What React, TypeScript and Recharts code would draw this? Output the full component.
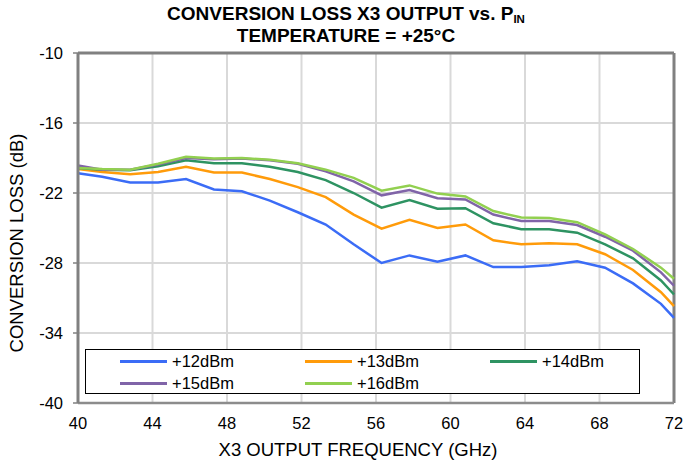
import React from "react";
import {
  LineChart,
  Line,
  XAxis,
  YAxis,
  CartesianGrid,
  ReferenceLine,
} from "recharts";

// X3 output frequency (GHz)
const freqs = [
  40, 41.3, 42.8, 44.3, 45.8, 47.3, 48.8, 50.3, 51.8, 53.3, 54.8, 56.3,
  57.8, 59.3, 60.8, 62.3, 63.8, 65.3, 66.8, 68.3, 69.8, 71.3, 72,
];

// conversion loss (dB) per input power
const pin12 = [
  -20.3, -20.6, -21.1, -21.1, -20.8, -21.7, -21.85, -22.65, -23.65, -24.7, -26.4, -28.0,
  -27.35, -27.9, -27.35, -28.35, -28.35, -28.2, -27.85, -28.4, -29.75, -31.5, -32.7,
];
const pin13 = [
  -19.95, -20.2, -20.4, -20.2, -19.75, -20.25, -20.25, -20.8, -21.5, -22.35, -23.85, -25.05,
  -24.3, -25.0, -24.7, -26.05, -26.4, -26.3, -26.4, -27.25, -28.6, -30.5, -31.7,
];
const pin14 = [
  -19.85, -20.0, -20.05, -19.7, -19.2, -19.45, -19.45, -19.75, -20.2, -20.9, -22.0, -23.25,
  -22.6, -23.35, -23.3, -24.6, -25.1, -25.1, -25.4, -26.4, -27.6, -29.5, -30.7,
];
const pin15 = [
  -19.65, -20.0, -20.0, -19.55, -19.0, -19.1, -19.05, -19.2, -19.5, -20.15, -21.0, -22.2,
  -21.75, -22.45, -22.55, -23.85, -24.4, -24.4, -24.75, -25.75, -26.95, -28.8, -29.95,
];
const pin16 = [
  -19.85, -19.95, -20.0, -19.5, -18.9, -19.05, -19.0, -19.15, -19.45, -20.0, -20.7, -21.8,
  -21.35, -22.05, -22.3, -23.55, -24.1, -24.15, -24.5, -25.55, -26.8, -28.4, -29.35,
];

const xTicks = [40, 44, 48, 52, 56, 60, 64, 68, 72];
const yTicks = [-40, -34, -28, -22, -16, -10];

const series = [
  { key: "p12", name: "+12dBm", values: pin12, color: "#3b6cf6" },
  { key: "p13", name: "+13dBm", values: pin13, color: "#ff9b0a" },
  { key: "p14", name: "+14dBm", values: pin14, color: "#2e9362" },
  { key: "p15", name: "+15dBm", values: pin15, color: "#8064a8" },
  { key: "p16", name: "+16dBm", values: pin16, color: "#92d050" },
];

const data = freqs.map((f, i) => {
  const row: Record<string, number> = { f };
  series.forEach((s) => {
    row[s.key] = s.values[i];
  });
  return row;
});

const FONT = "'Liberation Sans', Arial, sans-serif";

// legend drawn as an overlay box inside the plot, like the datasheet
const LegendBox = () => {
  const cols = [120, 305, 490];
  return (
    <div
      style={{
        position: "absolute",
        left: 85,
        top: 349,
        width: 555,
        height: 45,
        border: "1px solid #000",
        background: "#fff",
        boxSizing: "border-box",
      }}
    >
      {series.map((s, i) => {
        const col = i % 3;
        const row = Math.floor(i / 3);
        return (
          <div
            key={s.key}
            style={{
              position: "absolute",
              left: cols[col] - 86,
              top: 1 + row * 22,
              display: "flex",
              alignItems: "center",
              fontSize: 16.5,
              color: "#000",
              height: 20,
            }}
          >
            <span
              style={{
                display: "inline-block",
                width: 47,
                height: 3,
                background: s.color,
                marginRight: 5,
              }}
            />
            {s.name}
          </div>
        );
      })}
    </div>
  );
};

const YTitle = () => (
  <text
    x={23}
    y={243}
    transform="rotate(-90 23 243)"
    textAnchor="middle"
    fontSize={18.5}
    fill="#000"
    fontFamily={FONT}
  >
    CONVERSION LOSS (dB)
  </text>
);

const XTitle = () => (
  <text x={358} y={456} textAnchor="middle" fontSize={18.5} fill="#000" fontFamily={FONT}>
    X3 OUTPUT FREQUENCY (GHz)
  </text>
);

export default function App() {
  return (
    <div
      style={{
        position: "absolute",
        left: 0,
        top: 0,
        width: 684,
        height: 464,
        background: "#fff",
        fontFamily: FONT,
      }}
    >
      <div
        style={{
          position: "absolute",
          left: 0,
          width: 684,
          top: 3,
          textAlign: "center",
          fontWeight: "bold",
          fontSize: 19,
          lineHeight: "22px",
          color: "#000",
          paddingLeft: 8,
          boxSizing: "border-box",
        }}
      >
        <div>
          CONVERSION LOSS X3 OUTPUT vs. P
          <sub style={{ fontSize: 11.5, verticalAlign: "-3px", lineHeight: 0 }}>IN</sub>
        </div>
        <div>TEMPERATURE = +25°C</div>
      </div>
      <LineChart
        width={684}
        height={464}
        data={data}
        margin={{ top: 53, right: 10, left: 0, bottom: 0 }}
        style={{ fontFamily: FONT, position: "absolute", left: 0, top: 0 }}
      >
        <CartesianGrid stroke="#d9d9d9" strokeWidth={2} />
        <XAxis
          dataKey="f"
          type="number"
          domain={[40, 72]}
          ticks={xTicks}
          height={61}
          axisLine={{ stroke: "#8c8c8c", strokeWidth: 2.5 }}
          tickLine={false}
          tickSize={0}
          tickMargin={14}
          tick={{ fill: "#000", fontSize: 16.5 }}
          label={<XTitle />}
        />
        <YAxis
          type="number"
          domain={[-40, -10]}
          ticks={yTicks}
          width={78}
          axisLine={{ stroke: "#808080", strokeWidth: 3 }}
          tickLine={{ stroke: "#808080", strokeWidth: 1.5 }}
          tickSize={5}
          tickMargin={10}
          tick={{ fill: "#000", fontSize: 16.5 }}
          label={<YTitle />}
        />
        <ReferenceLine y={-10} stroke="#808080" strokeWidth={3} />
        <ReferenceLine x={72} stroke="#808080" strokeWidth={3} />
        {series.map((s) => (
          <Line
            key={s.key}
            dataKey={s.key}
            name={s.name}
            stroke={s.color}
            strokeWidth={2.5}
            dot={false}
            type="linear"
            isAnimationActive={false}
          />
        ))}
      </LineChart>
      <LegendBox />
    </div>
  );
}
